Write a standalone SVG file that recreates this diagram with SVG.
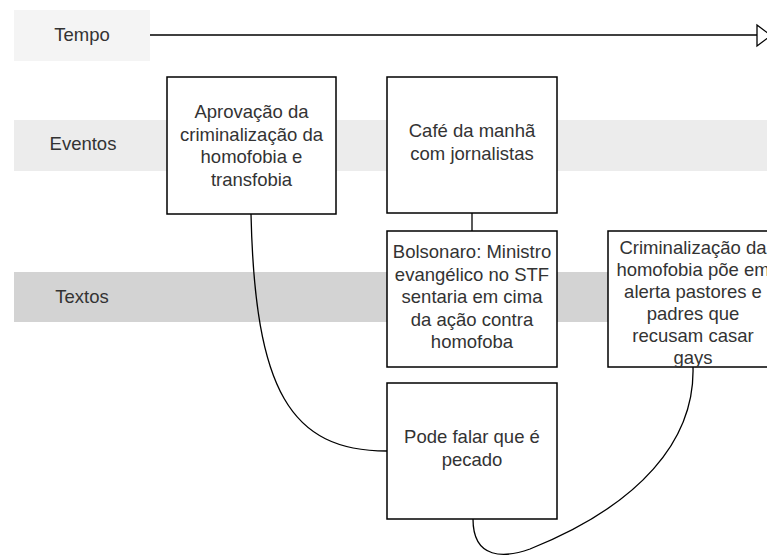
<svg xmlns="http://www.w3.org/2000/svg" width="767" height="557" viewBox="0 0 767 557">
<style>
.lbl{font-family:"Liberation Sans",Arial,sans-serif;font-size:18.5px;fill:#333;text-anchor:middle}
.box{fill:#fff;stroke:#000;stroke-width:1.5}
.con{fill:none;stroke:#000;stroke-width:1.3}
</style>
<g id="lanes">
<rect x="14" y="10" width="136" height="51" fill="#f4f4f4"/>
<text class="lbl" x="82" y="41">Tempo</text>
<rect x="14" y="120" width="753" height="51" fill="#ececec"/>
<text class="lbl" x="83" y="150">Eventos</text>
<rect x="14" y="272" width="753" height="50" fill="#d3d3d3"/>
<text class="lbl" x="82" y="303">Textos</text>
</g>
<g id="connectors">
<line class="con" x1="150" y1="35" x2="757" y2="35"/>
<polygon points="757,25 771,35.5 757,46" fill="#fff" stroke="#000" stroke-width="1.3"/>
<line class="con" x1="472" y1="213" x2="472" y2="231"/>
<path class="con" d="M251,214 C255,390 290,451 387,451"/>
<path class="con" d="M473,519 C473,560 505,558 530,549 C640,505 695,440 693,367"/>
</g>
<g id="n1">
<rect class="box" x="167" y="77" width="169" height="137"/>
<text class="lbl" x="251.5" y="118">Aprovação da</text>
<text class="lbl" x="251.5" y="140.5">criminalização da</text>
<text class="lbl" x="251.5" y="163">homofobia e</text>
<text class="lbl" x="251.5" y="185.5">transfobia</text>
</g>
<g id="n2">
<rect class="box" x="387" y="77" width="170" height="136"/>
<text class="lbl" x="472" y="137">Café da manhã</text>
<text class="lbl" x="472" y="159.5">com jornalistas</text>
</g>
<g id="n3">
<rect class="box" x="387" y="231" width="170" height="136"/>
<text class="lbl" x="472" y="258">Bolsonaro: Ministro</text>
<text class="lbl" x="472" y="280.5">evangélico no STF</text>
<text class="lbl" x="472" y="303">sentaria em cima</text>
<text class="lbl" x="472" y="325.5">da ação contra</text>
<text class="lbl" x="472" y="348">homofoba</text>
</g>
<g id="n4">
<rect class="box" x="608" y="231" width="170" height="136"/>
<text class="lbl" x="693" y="254">Criminalização da</text>
<text class="lbl" x="693" y="276">homofobia põe em</text>
<text class="lbl" x="693" y="298">alerta pastores e</text>
<text class="lbl" x="693" y="320">padres que</text>
<text class="lbl" x="693" y="342">recusam casar</text>
<text class="lbl" x="693" y="364">gays</text>
</g>
<g id="n5">
<rect class="box" x="387" y="383" width="170" height="136"/>
<text class="lbl" x="472" y="443">Pode falar que é</text>
<text class="lbl" x="472" y="465.5">pecado</text>
</g>
</svg>
